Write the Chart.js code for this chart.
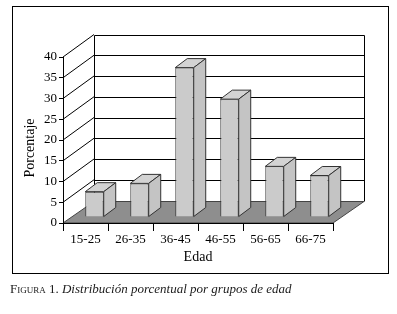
<!DOCTYPE html>
<html lang="es">
<head>
  <meta charset="UTF-8" />
  <title>Distribución porcentual por grupos de edad</title>
  <script src="https://cdn.jsdelivr.net/npm/chart.js"></script>
  <style>
    body {
      margin: 0;
      background: #fff;
      width: 397px;
      height: 314px;
      position: relative;
      overflow: hidden;
      font-family: 'Liberation Serif', 'Times New Roman', serif;
    }

    .frame {
      position: absolute;
      left: 12px;
      top: 6px;
      width: 377px;
      height: 268px;
      border: 1px solid #000;
      box-sizing: border-box;
    }

    canvas {
      position: absolute;
      left: 0;
      top: 0;
    }

    .caption {
      position: absolute;
      left: 10px;
      top: 281px;
      font-size: 13px;
      color: #1a1a1a;
      white-space: nowrap;
    }

    .caption .fig { font-variant: small-caps; }
  </style>
</head>
<body>
  <div class="frame"></div>
  <canvas id="ageChart" width="397" height="314"></canvas>
  <div class="caption"><span class="fig">Figura 1.</span> <em>Distribución porcentual por grupos de edad</em></div>

  <script>
    const ageGroups = ["15-25", "26-35", "36-45", "46-55", "56-65", "66-75"];
    const percentages = [6.1, 8.1, 36, 28.4, 12.2, 10];
    const yMax = 40;
    const yStep = 5;

    // 3D look: offsets of the back wall and of the bars
    const depth = { x: 31, y: -22.5 };
    const barShift = { x: 9, y: -6 };
    const barDepth = { x: 12, y: -9 };

    const walls3d = {
      id: "walls3d",
      beforeDraw(chart) {
        const { ctx, chartArea: a, scales: { y } } = chart;
        const bx = a.left + depth.x;
        const rx = a.right + depth.x;
        const fy = Math.round(a.bottom + depth.y) + 0.5;
        const ty = Math.round(y.getPixelForValue(yMax) + depth.y) + 0.5;
        ctx.save();
        ctx.lineWidth = 1;

        // floor
        ctx.fillStyle = "#8e8e8e";
        ctx.strokeStyle = "#444";
        ctx.beginPath();
        ctx.moveTo(a.left, a.bottom);
        ctx.lineTo(a.right, a.bottom);
        ctx.lineTo(rx, fy);
        ctx.lineTo(bx, fy);
        ctx.closePath();
        ctx.fill();
        ctx.stroke();

        // back wall grid and left wall lines
        ctx.strokeStyle = "#000";
        y.ticks.forEach(t => {
          if (t.value === 0) return;
          const py = y.getPixelForValue(t.value);
          const by = Math.round(py + depth.y) + 0.5;
          ctx.beginPath();
          ctx.moveTo(Math.round(bx) + 0.5, by);
          ctx.lineTo(Math.round(rx) + 0.5, by);
          ctx.stroke();
          ctx.beginPath();
          ctx.moveTo(a.left, py);
          ctx.lineTo(bx, py + depth.y);
          ctx.stroke();
        });

        // wall edges
        ctx.beginPath();
        ctx.moveTo(Math.round(bx) + 0.5, ty);
        ctx.lineTo(Math.round(bx) + 0.5, fy);
        ctx.moveTo(Math.round(rx) + 0.5, ty);
        ctx.lineTo(Math.round(rx) + 0.5, fy);
        ctx.stroke();
        ctx.restore();
      },
      beforeDatasetsDraw(chart) {
        chart.ctx.save();
        chart.ctx.translate(barShift.x, barShift.y);
      },
      afterDatasetsDraw(chart) {
        const ctx = chart.ctx;
        ctx.lineWidth = 1;
        ctx.strokeStyle = "#333";
        chart.getDatasetMeta(0).data.forEach(bar => {
          const { x, y, base, width } = bar.getProps(["x", "y", "base", "width"], true);
          const l = x - width / 2;
          const r = x + width / 2;
          // top
          ctx.fillStyle = "#d3d3d3";
          ctx.beginPath();
          ctx.moveTo(l, y);
          ctx.lineTo(r, y);
          ctx.lineTo(r + barDepth.x, y + barDepth.y);
          ctx.lineTo(l + barDepth.x, y + barDepth.y);
          ctx.closePath();
          ctx.fill();
          ctx.stroke();
          // side
          ctx.fillStyle = "#c4c4c4";
          ctx.beginPath();
          ctx.moveTo(r, y);
          ctx.lineTo(r + barDepth.x, y + barDepth.y);
          ctx.lineTo(r + barDepth.x, base + barDepth.y);
          ctx.lineTo(r, base);
          ctx.closePath();
          ctx.fill();
          ctx.stroke();
        });
        ctx.restore();
      },
      afterDraw(chart) {
        const { ctx, chartArea: a } = chart;
        ctx.save();
        ctx.translate(30, (a.top + a.bottom) / 2 + 8);
        ctx.rotate(-Math.PI / 2);
        ctx.font = "14px 'Liberation Serif'";
        ctx.fillStyle = "#000";
        ctx.textAlign = "center";
        ctx.textBaseline = "middle";
        ctx.fillText("Porcentaje", 0, 0);
        ctx.restore();
      }
    };

    Chart.defaults.font.family = "'Liberation Serif', 'Times New Roman', serif";
    Chart.defaults.color = "#000";

    new Chart(document.getElementById("ageChart"), {
      type: "bar",
      data: {
        labels: ageGroups,
        datasets: [{
          data: percentages,
          backgroundColor: "#cbcbcb",
          borderColor: "#333",
          borderWidth: 1,
          barPercentage: 0.41,
          categoryPercentage: 1,
          clip: false
        }]
      },
      options: {
        responsive: false,
        animation: false,
        layout: { padding: { left: 23, top: 57, right: 64, bottom: 47 } },
        plugins: {
          legend: { display: false },
          tooltip: { enabled: false }
        },
        scales: {
          x: {
            grid: { drawOnChartArea: false, tickLength: 8, color: "#000", offset: true },
            border: { color: "#000" },
            ticks: { padding: 1, color: "#000", font: { size: 13 } },
            title: {
              display: true,
              text: "Edad",
              color: "#000",
              font: { size: 14 },
              padding: { top: 0, bottom: 1 }
            },
            afterFit(s) { s.height = 44; }
          },
          y: {
            min: 0,
            max: yMax,
            ticks: { stepSize: yStep, padding: 2, color: "#000", font: { size: 13 } },
            grid: { drawOnChartArea: false, tickLength: 4, color: "#000" },
            border: { color: "#000" },
            afterFit(s) { s.width = 40; }
          }
        }
      },
      plugins: [walls3d]
    });
  </script>
</body>
</html>
